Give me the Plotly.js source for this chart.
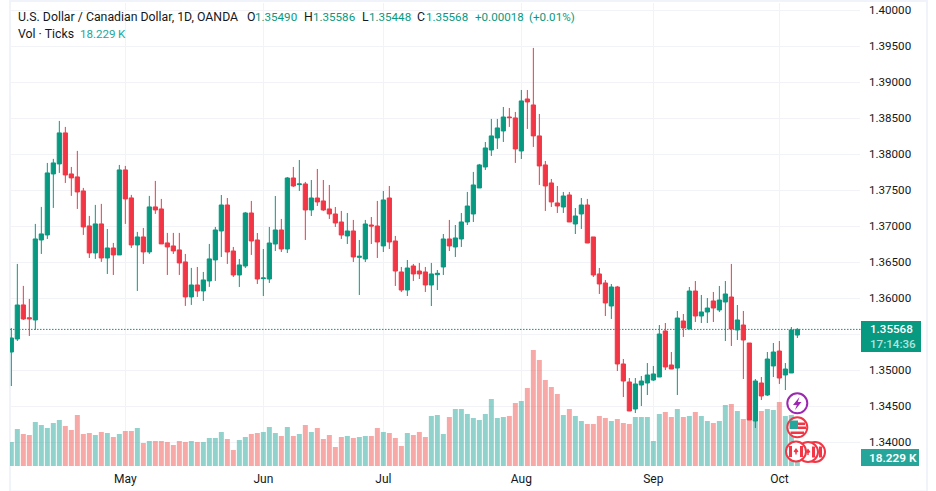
<!DOCTYPE html>
<html>
<head>
<meta charset="utf-8">
<script src="https://cdn.plot.ly/plotly-3.0.1.min.js"></script>
<style>
html, body { margin: 0; padding: 0; background: #fff; }
#chart { width: 936px; height: 491px; }
</style>
</head>
<body>
<div id="chart"></div>
<script>
// trading days, weekends left out
let days = [
  '2024-04-04','2024-04-05','2024-04-08','2024-04-09','2024-04-10','2024-04-11','2024-04-12','2024-04-15','2024-04-16','2024-04-17',
  '2024-04-18','2024-04-19','2024-04-22','2024-04-23','2024-04-24','2024-04-25','2024-04-26','2024-04-29','2024-04-30','2024-05-01',
  '2024-05-02','2024-05-03','2024-05-06','2024-05-07','2024-05-08','2024-05-09','2024-05-10','2024-05-13','2024-05-14','2024-05-15',
  '2024-05-16','2024-05-17','2024-05-20','2024-05-21','2024-05-22','2024-05-23','2024-05-24','2024-05-27','2024-05-28','2024-05-29',
  '2024-05-30','2024-05-31','2024-06-03','2024-06-04','2024-06-05','2024-06-06','2024-06-07','2024-06-10','2024-06-11','2024-06-12',
  '2024-06-13','2024-06-14','2024-06-17','2024-06-18','2024-06-19','2024-06-20','2024-06-21','2024-06-24','2024-06-25','2024-06-26',
  '2024-06-27','2024-06-28','2024-07-01','2024-07-02','2024-07-03','2024-07-04','2024-07-05','2024-07-08','2024-07-09','2024-07-10',
  '2024-07-11','2024-07-12','2024-07-15','2024-07-16','2024-07-17','2024-07-18','2024-07-19','2024-07-22','2024-07-23','2024-07-24',
  '2024-07-25','2024-07-26','2024-07-29','2024-07-30','2024-07-31','2024-08-01','2024-08-02','2024-08-05','2024-08-06','2024-08-07',
  '2024-08-08','2024-08-09','2024-08-12','2024-08-13','2024-08-14','2024-08-15','2024-08-16','2024-08-19','2024-08-20','2024-08-21',
  '2024-08-22','2024-08-23','2024-08-26','2024-08-27','2024-08-28','2024-08-29','2024-08-30','2024-09-02','2024-09-03','2024-09-04',
  '2024-09-05','2024-09-06','2024-09-09','2024-09-10','2024-09-11','2024-09-12','2024-09-13','2024-09-16','2024-09-17','2024-09-18',
  '2024-09-19','2024-09-20','2024-09-23','2024-09-24','2024-09-25','2024-09-26','2024-09-27','2024-09-30','2024-10-01','2024-10-02',
  '2024-10-03','2024-10-04'
];

let open = [
  1.35254,1.35435,1.35908,1.35730,1.35699,1.36810,1.36880,1.37727,1.37866,1.38297,
  1.37727,1.37686,1.37491,1.37005,1.36630,1.37033,1.36560,1.36699,1.36602,1.37783,
  1.37394,1.36741,1.36852,1.36644,1.37269,1.37241,1.36769,1.36727,1.36672,1.36505,
  1.36019,1.36185,1.36102,1.36241,1.36533,1.36935,1.37296,1.36657,1.36324,1.36449,
  1.37185,1.36810,1.36273,1.36268,1.36754,1.36949,1.36685,1.37671,1.37579,1.37588,
  1.37227,1.37393,1.37352,1.37241,1.37171,1.37060,1.36866,1.36935,1.36569,1.36546,
  1.37018,1.37004,1.36727,1.37393,1.36796,1.36366,1.36115,1.36449,1.36379,1.36366,
  1.36185,1.36328,1.36435,1.36824,1.36713,1.36824,1.37060,1.37171,1.37532,1.37824,
  1.38060,1.38227,1.38324,1.38518,1.38505,1.38046,1.38768,1.38685,1.38255,1.37852,
  1.37602,1.37324,1.37268,1.37435,1.37032,1.37171,1.37296,1.36852,1.36338,1.36213,
  1.35893,1.36157,1.35088,1.34838,1.34463,1.34796,1.34824,1.34865,1.34907,1.35546,
  1.35074,1.35032,1.35685,1.35574,1.36101,1.35754,1.35810,1.35963,1.35838,1.35949,
  1.36018,1.35560,1.35629,1.35379,1.34296,1.34824,1.34657,1.35060,1.35268,1.34935,
  1.34963,1.35490
];
let high = [
  1.35588,1.36477,1.36172,1.35991,1.37033,1.37269,1.37880,1.37936,1.38463,1.38380,
  1.37824,1.38047,1.37533,1.37144,1.37297,1.37311,1.36963,1.36769,1.37852,1.37838,
  1.37436,1.36922,1.36977,1.37422,1.37630,1.37380,1.36908,1.36908,1.36908,1.36616,
  1.36422,1.36435,1.36366,1.36755,1.36991,1.37435,1.37393,1.36713,1.36546,1.37199,
  1.37352,1.36907,1.36685,1.36991,1.37421,1.37102,1.37685,1.37824,1.37921,1.37616,
  1.37643,1.37796,1.37643,1.37574,1.37268,1.37213,1.37185,1.37088,1.36810,1.37088,
  1.37129,1.37352,1.37491,1.37560,1.36866,1.36435,1.36532,1.36477,1.36491,1.36435,
  1.36491,1.36393,1.36893,1.37088,1.37018,1.37185,1.37477,1.37755,1.37866,1.38171,
  1.38491,1.38491,1.38657,1.38643,1.38588,1.38893,1.38893,1.39477,1.38560,1.37907,
  1.37657,1.37560,1.37477,1.37477,1.37254,1.37393,1.37380,1.36852,1.36421,1.36254,
  1.36199,1.36171,1.35157,1.34893,1.34893,1.34921,1.35101,1.35060,1.35629,1.35657,
  1.35254,1.35824,1.35782,1.36157,1.36240,1.36046,1.36004,1.36088,1.36171,1.36240,
  1.36477,1.35907,1.35824,1.35379,1.34879,1.34907,1.35254,1.35379,1.35407,1.35101,
  1.35601,1.35586
];
let low = [
  1.34782,1.35407,1.35699,1.35477,1.35560,1.36616,1.36824,1.37255,1.37741,1.37602,
  1.37422,1.37241,1.36880,1.36560,1.36547,1.36505,1.36338,1.36324,1.36602,1.37033,
  1.36699,1.36102,1.36477,1.36616,1.37172,1.36755,1.36324,1.36616,1.36324,1.35894,
  1.35908,1.36019,1.35963,1.36158,1.36241,1.36574,1.36477,1.36296,1.36157,1.36421,
  1.36602,1.36199,1.36032,1.36213,1.36657,1.36643,1.36629,1.37546,1.37491,1.36810,
  1.37143,1.37282,1.37213,1.37102,1.36991,1.36824,1.36754,1.36504,1.36046,1.36504,
  1.36754,1.36560,1.36643,1.36685,1.36171,1.36088,1.36032,1.36241,1.36268,1.36088,
  1.35893,1.36115,1.36324,1.36657,1.36574,1.36713,1.37018,1.37060,1.37532,1.37782,
  1.37977,1.38074,1.38171,1.38380,1.37880,1.37935,1.38352,1.38102,1.37574,1.37213,
  1.37268,1.37185,1.37185,1.37060,1.36893,1.36963,1.36768,1.36296,1.36060,1.35754,
  1.35713,1.34990,1.34629,1.34435,1.34407,1.34504,1.34657,1.34851,1.34907,1.35004,
  1.35018,1.34657,1.35463,1.35574,1.35671,1.35657,1.35657,1.35671,1.35810,1.35407,
  1.35338,1.35421,1.34879,1.34310,1.34199,1.34587,1.34643,1.34907,1.34810,1.34726,
  1.34963,1.35448
];
let close = [
  1.35449,1.35907,1.35713,1.35715,1.36824,1.36894,1.37741,1.37880,1.38297,1.37713,
  1.37672,1.37477,1.36991,1.36630,1.37033,1.36560,1.36699,1.36602,1.37783,1.37380,
  1.36741,1.36852,1.36644,1.37269,1.37227,1.36755,1.36713,1.36658,1.36491,1.36019,
  1.36185,1.36102,1.36255,1.36547,1.36949,1.37296,1.36643,1.36324,1.36463,1.37185,
  1.36796,1.36268,1.36282,1.36768,1.36949,1.36685,1.37671,1.37560,1.37588,1.37227,
  1.37393,1.37338,1.37227,1.37171,1.37046,1.36879,1.36935,1.36574,1.36583,1.37032,
  1.37004,1.36782,1.37366,1.36782,1.36379,1.36115,1.36421,1.36338,1.36338,1.36185,
  1.36338,1.36347,1.36824,1.36727,1.36838,1.37060,1.37282,1.37574,1.37852,1.38088,
  1.38255,1.38366,1.38518,1.38509,1.38074,1.38741,1.38727,1.38255,1.37838,1.37560,
  1.37338,1.37282,1.37421,1.37060,1.37143,1.37296,1.36768,1.36324,1.36199,1.35935,
  1.36157,1.35088,1.34851,1.34435,1.34810,1.34851,1.34935,1.34949,1.35504,1.35046,
  1.35018,1.35726,1.35588,1.36101,1.35754,1.35810,1.35865,1.35865,1.35976,1.36060,
  1.35574,1.35699,1.35421,1.34310,1.34851,1.34643,1.35157,1.35254,1.34893,1.35018,
  1.35560,1.35568
];
// thousands of ticks
let volume = [
  72,111,96,93,132,123,114,129,138,120,
  108,153,96,99,93,102,99,87,96,105,
  105,114,69,75,75,75,72,63,75,72,
  75,72,72,84,84,102,81,48,78,87,
  96,99,102,117,99,90,117,90,96,123,
  102,114,81,93,57,87,90,84,87,90,
  90,114,102,99,84,60,99,93,102,87,
  150,153,96,147,171,171,156,144,138,156,
  201,144,147,150,189,195,234,348,318,258,
  237,216,153,171,150,135,126,126,150,144,
  135,141,129,126,147,147,147,75,156,162,
  147,171,147,150,162,150,135,129,135,183,
  186,165,141,138,138,165,171,168,192,150,
  153,18.229
];

let monthDays = ['2024-05-01','2024-06-03','2024-07-01','2024-08-01','2024-09-02','2024-10-01'];
let monthNames = ['May','Jun','Jul','Aug','Sep','Oct'];
let priceTicks = [1.34,1.345,1.35,1.355,1.36,1.365,1.37,1.375,1.38,1.385,1.39,1.395,1.40];
// 1.35500 has a gridline but its label is covered by the last price tag
let priceLabels = ['1.34000','1.34500','1.35000','','1.36000','1.36500','1.37000','1.37500','1.38000','1.38500','1.39000','1.39500','1.40000'];

const UP = '#089981', DOWN = '#f23645';
const INK = '#131722', GRID = '#f2f3f6', BAND = '#f0f3fa';
const FONT = 'Roboto, sans-serif';

// the plot runs from x 10 to 860 and y 3 to 466
function px(x) { return (x - 10) / 850; }
function py(y) { return (466 - y) / 463; }

let volumeColors = [];
for (let i = 0; i < volume.length; i++) {
  volumeColors.push(close[i] >= open[i] ? 'rgba(38,166,154,0.5)' : 'rgba(239,83,80,0.5)');
}

let traces = [
  {
    type: 'bar',
    x: days,
    y: volume,
    yaxis: 'y',
    marker: { color: volumeColors, line: { width: 0 } },
    hoverinfo: 'skip'
  },
  {
    type: 'candlestick',
    x: days,
    open: open,
    high: high,
    low: low,
    close: close,
    yaxis: 'y2',
    whiskerwidth: 0,
    increasing: { line: { color: UP, width: 1 }, fillcolor: UP },
    decreasing: { line: { color: DOWN, width: 1 }, fillcolor: DOWN },
    hoverinfo: 'skip'
  }
];

// annotations sit about 2px right of the x they are given
function label(x, y, text, color, size, weight) {
  return {
    xref: 'paper', yref: 'paper', x: px(x - 2), y: py(y),
    xanchor: 'left', yanchor: 'middle', align: 'left', showarrow: false,
    text: text,
    font: { family: FONT, size: size || 12.3, color: color || INK, weight: weight || 400 }
  };
}

let last = close.length - 1;
let annotations = [
  label(18, 16.5, 'U.S. Dollar / Canadian Dollar, 1D, OANDA'),
  label(247, 16.5, 'O'), label(255, 16.5, open[last].toFixed(5), UP, 11.6),
  label(304, 16.5, 'H'), label(313, 16.5, high[last].toFixed(5), UP, 11.6),
  label(362, 16.5, 'L'), label(369, 16.5, low[last].toFixed(5), UP, 11.6),
  label(417, 16.5, 'C'), label(426, 16.5, close[last].toFixed(5), UP, 11.6),
  label(475, 16.5, '+0.00018', UP, 11.6),
  label(529, 16.5, '(+0.01%)', UP, 11.6),
  label(18, 34, 'Vol · Ticks'),
  label(80, 34, '18.229\u2009K', '#26a69a', 11.6),
  label(870, 336.5, close[last].toFixed(5) + '<br><span style="color:#b5e3dd">17:14:36</span>', '#ffffff', 11.6, 500),
  label(869, 458, '18.229 K', '#ffffff', 11.8, 600)
];

function circle(cx, cy, r, line, width) {
  return {
    type: 'circle', xref: 'paper', yref: 'paper', layer: 'above',
    x0: px(cx - r), x1: px(cx + r), y0: py(cy + r), y1: py(cy - r),
    fillcolor: '#ffffff', line: { color: line, width: width || 2 }
  };
}
function poly(points, fill) {
  let d = '';
  for (let i = 0; i < points.length; i++) {
    d += (i ? 'L' : 'M') + px(points[i][0]) + ',' + py(points[i][1]);
  }
  return { type: 'path', xref: 'paper', yref: 'paper', layer: 'above', path: d + 'Z', fillcolor: fill, line: { width: 0 } };
}
function box(x0, y0, x1, y1, fill) {
  return {
    type: 'rect', xref: 'paper', yref: 'paper', layer: 'above',
    x0: px(x0), x1: px(x1), y0: py(y1), y1: py(y0), fillcolor: fill, line: { width: 0 }
  };
}
function mapleCoin(cx, cy) {
  return [
    circle(cx, cy, 10, DOWN),
    box(cx - 7, cy - 5.5, cx - 4, cy + 5.5, DOWN),
    box(cx + 4, cy - 5.5, cx + 7, cy + 5.5, DOWN),
    poly([[cx, cy - 3.5], [cx + 2.5, cy], [cx + 0.7, cy + 1], [cx + 0.7, cy + 3], [cx - 0.7, cy + 3], [cx - 0.7, cy + 1], [cx - 2.5, cy]], DOWN)
  ];
}

let shapes = [
  // light frame round the chart
  { type: 'rect', xref: 'paper', yref: 'paper', layer: 'below', x0: px(10), x1: px(927), y0: py(491.5), y1: py(1), fillcolor: 'rgba(0,0,0,0)', line: { color: BAND, width: 2 } },
  // last price line and tags
  { type: 'line', xref: 'paper', yref: 'y2', x0: px(10), x1: px(861), y0: close[last], y1: close[last], line: { color: UP, width: 1, dash: '1.5px,1.5px' } },
  box(861, 321, 921, 352, UP),
  box(861, 449, 919, 466, '#26a69a')
].concat(
  mapleCoin(815, 452), mapleCoin(808, 452), mapleCoin(796, 451.5),
  [
    circle(797.3, 403.3, 10, '#9c27b0'),
    poly([[799.5, 397], [793, 405], [796.8, 405], [795, 410], [801.5, 402], [797.8, 402]], '#9c27b0'),
    circle(797.3, 427.3, 10, DOWN),
    box(798, 422.5, 805, 425, DOWN),
    box(798, 426.5, 806, 429, DOWN),
    box(790.5, 431.5, 804, 434, DOWN),
    box(789.5, 420.5, 798, 429, '#26a69a')
  ]
);

let layout = {
  width: 936,
  height: 491,
  margin: { l: 10, r: 76, t: 3, b: 25, pad: 0 },
  paper_bgcolor: '#ffffff',
  plot_bgcolor: '#ffffff',
  showlegend: false,
  bargap: 0.167,
  boxgap: 0.3,
  boxgroupgap: 0,
  font: { family: FONT, size: 12, color: INK },
  xaxis: {
    type: 'category',
    range: [-0.222, 141.44],
    rangeslider: { visible: false },
    tickmode: 'array',
    tickvals: monthDays,
    ticktext: monthNames,
    showgrid: true,
    gridcolor: GRID,
    gridwidth: 1,
    zeroline: false,
    showline: false,
    ticks: '',
    ticklabelstandoff: 4,
    tickfont: { family: FONT, size: 12, color: INK }
  },
  yaxis: {
    range: [0, 1389],
    visible: false,
    fixedrange: true
  },
  yaxis2: {
    overlaying: 'y',
    side: 'right',
    range: [1.33671, 1.40101],
    tickmode: 'array',
    tickvals: priceTicks,
    ticktext: priceLabels,
    showgrid: true,
    gridcolor: GRID,
    gridwidth: 1,
    zeroline: false,
    showline: false,
    ticks: '',
    ticklabelstandoff: 8,
    tickfont: { family: FONT, size: 11.6, color: INK }
  },
  annotations: annotations,
  shapes: shapes
};

Plotly.newPlot('chart', traces, layout, { staticPlot: true, displayModeBar: false });
</script>
</body>
</html>
